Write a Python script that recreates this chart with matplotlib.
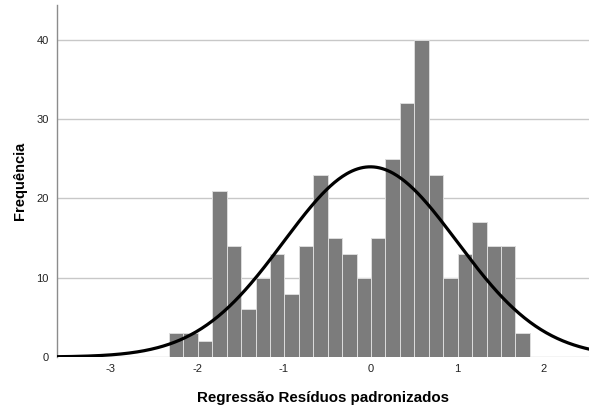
import numpy as np
import matplotlib
matplotlib.use("Agg")
import matplotlib.pyplot as plt

# histogram of standardized residuals
counts = [3, 3, 2, 21, 14, 6, 10, 13, 8, 14, 23, 15, 13,
          10, 15, 25, 32, 40, 23, 10, 13, 17, 14, 14, 3]
bin_lo, bin_hi = -2.324, 1.840
mean_res, sd_res = 0.0, 1.0
x_ticks = [-3, -2, -1, 0, 1, 2]
y_ticks = [0, 10, 20, 30, 40]

plt.rcParams["font.family"] = ["Liberation Sans", "DejaVu Sans"]
plt.rcParams["axes.unicode_minus"] = False

edges = np.linspace(bin_lo, bin_hi, len(counts) + 1)
width = edges[1] - edges[0]
n = sum(counts)

fig = plt.figure(figsize=(5.89, 4.07), dpi=100)
ax = fig.add_axes([57 / 589, 50 / 407, 532 / 589, 352 / 407])

for y in y_ticks:
    ax.axhline(y, color="#c8c8c8", lw=1.0, zorder=0)

ax.bar(edges[:-1], counts, width=width, align="edge",
       color="#7c7c7c", edgecolor="#dcdcdc", linewidth=0.7, zorder=2)

# fitted normal curve scaled to counts
xs = np.linspace(-3.7, 2.6, 400)
pdf = np.exp(-0.5 * ((xs - mean_res) / sd_res) ** 2) / (sd_res * np.sqrt(2 * np.pi))
ax.plot(xs, n * width * pdf, color="black", lw=2.3, zorder=3)

ax.set_xlim(-3.616, 2.523)
ax.set_ylim(0, 44.4)
ax.set_xticks(x_ticks)
ax.set_yticks(y_ticks)
ax.tick_params(length=0, labelsize=8, colors="#222222")
ax.tick_params(axis="x", pad=5)
ax.tick_params(axis="y", pad=6)

for side in ("top", "right", "bottom"):
    ax.spines[side].set_visible(False)
ax.spines["left"].set_color("#8c8c8c")
ax.spines["left"].set_linewidth(1.0)

ax.set_xlabel("Regressão Resíduos padronizados", fontsize=10.9,
              fontweight="bold", labelpad=12)
ax.set_ylabel("Frequência", fontsize=10.5, fontweight="bold", labelpad=7)

fig.savefig("out.png", dpi=100)
